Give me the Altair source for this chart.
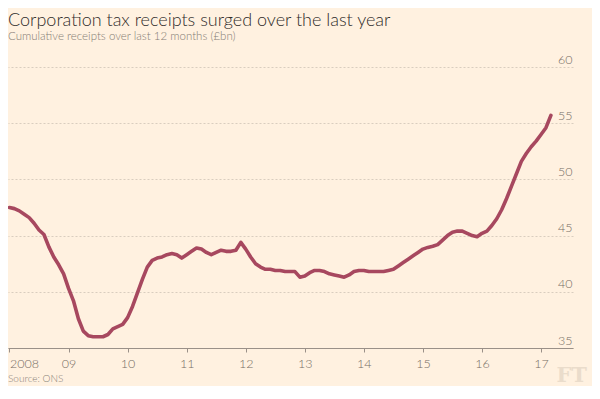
import altair as alt
import pandas as pd

# Monthly cumulative receipts over last 12 months (£bn), Jan 2008 .. Mar 2017
start_year = 2008
values = [47.5, 47.4, 47.2, 46.9, 46.6, 46.1, 45.5, 45.1, 44.0, 43.1, 42.4, 41.6,
          40.3, 39.2, 37.6, 36.5, 36.1, 36.0, 36.0, 36.0, 36.2, 36.7, 36.9, 37.1,
          37.7, 38.7, 39.9, 41.1, 42.2, 42.8, 43.0, 43.1, 43.3, 43.4, 43.3, 43.0,
          43.3, 43.6, 43.9, 43.8, 43.5, 43.3, 43.5, 43.7, 43.6, 43.6, 43.7, 44.4,
          43.8, 43.1, 42.5, 42.2, 42.0, 42.0, 41.9, 41.9, 41.8, 41.8, 41.8, 41.3,
          41.4, 41.7, 41.9, 41.9, 41.8, 41.6, 41.5, 41.4, 41.3, 41.5, 41.8, 41.9,
          41.9, 41.8, 41.8, 41.8, 41.8, 41.9, 42.0, 42.3, 42.6, 42.9, 43.2, 43.5,
          43.8, 43.95, 44.05, 44.2, 44.6, 45.0, 45.3, 45.4, 45.4, 45.2, 45.0, 44.9,
          45.2, 45.4, 45.9, 46.5, 47.3, 48.3, 49.4, 50.5, 51.6, 52.3, 52.9, 53.4,
          54.0, 54.6, 55.7]

year_ticks = [2008, 2009, 2010, 2011, 2012, 2013, 2014, 2015, 2016, 2017]
y_ticks = [35, 40, 45, 50, 55, 60]

title_text = "Corporation tax receipts surged over the last year"
subtitle_text = "Cumulative receipts over last 12 months (£bn)"
source_text = "Source: ONS"
logo_text = "FT"

df = pd.DataFrame({
    "t": [start_year + i / 12 for i in range(len(values))],
    "v": values,
})

FONT = "Lato"
BG = "#fff1e0"
LINE = "#a7485f"
GREY = "#766d64"

x_scale = alt.Scale(domain=[2007.975, 2017.541], nice=False, zero=False)
y_scale = alt.Scale(domain=[35, 60], nice=False, zero=False)

line = alt.Chart(df).mark_line(
    color=LINE, strokeWidth=3.6, strokeJoin="round", strokeCap="round"
).encode(
    x=alt.X("t:Q", scale=x_scale, axis=alt.Axis(
        values=year_ticks, title=None, grid=False,
        domain=True, domainColor="#9a9088", domainWidth=1,
        ticks=True, tickSize=4, tickColor="#9a9088", tickWidth=1,
        labelExpr="datum.value == 2008 ? '2008' : slice(toString(datum.value), 2)",
        labelFont=FONT, labelFontSize=12.5, labelFontWeight=300, labelColor=GREY,
        labelBaseline="alphabetic", labelPadding=15, labelFlush=3,
    )),
    y=alt.Y("v:Q", scale=y_scale, axis=alt.Axis(
        orient="right", values=y_ticks, title=None,
        domain=False, ticks=False, tickSize=0,
        grid=True, gridColor="#d9cdbf", gridDash=[2, 2], gridWidth=1,
        labelAlign="right", labelBaseline="alphabetic", labelOffset=-4,
        labelPadding=-1, labelFont=FONT, labelFontSize=12.5, labelFontWeight=300,
        labelColor=GREY,
    )),
)

def text_layer(txt, x, y, size, color, weight=300, font=FONT, align="left"):
    return alt.Chart(pd.DataFrame({"s": [txt]})).mark_text(
        align=align, baseline="alphabetic", fontSize=size, color=color,
        font=font, fontWeight=weight,
    ).encode(x=alt.value(x), y=alt.value(y), text="s:N")

title = text_layer(title_text, 0, -41, 18, "#2f2c2a")
subtitle = text_layer(subtitle_text, 0, -27, 11.5, "#857d75")
source = text_layer(source_text, 0, 315, 10, "#8a827a")
logo = text_layer(logo_text, 579, 315, 21, "#eadccb", weight="bold",
                  font="DejaVu Serif", align="right")

chart = alt.layer(line, title, subtitle, source, logo).properties(
    width=565, height=281,
    autosize=alt.AutoSizeParams(type="none"),
    padding={"left": 0, "top": 59, "right": 19, "bottom": 38},
    background=BG,
).configure_view(stroke=None)

chart.save("out.html", embed_options={"renderer": "svg", "actions": False})
